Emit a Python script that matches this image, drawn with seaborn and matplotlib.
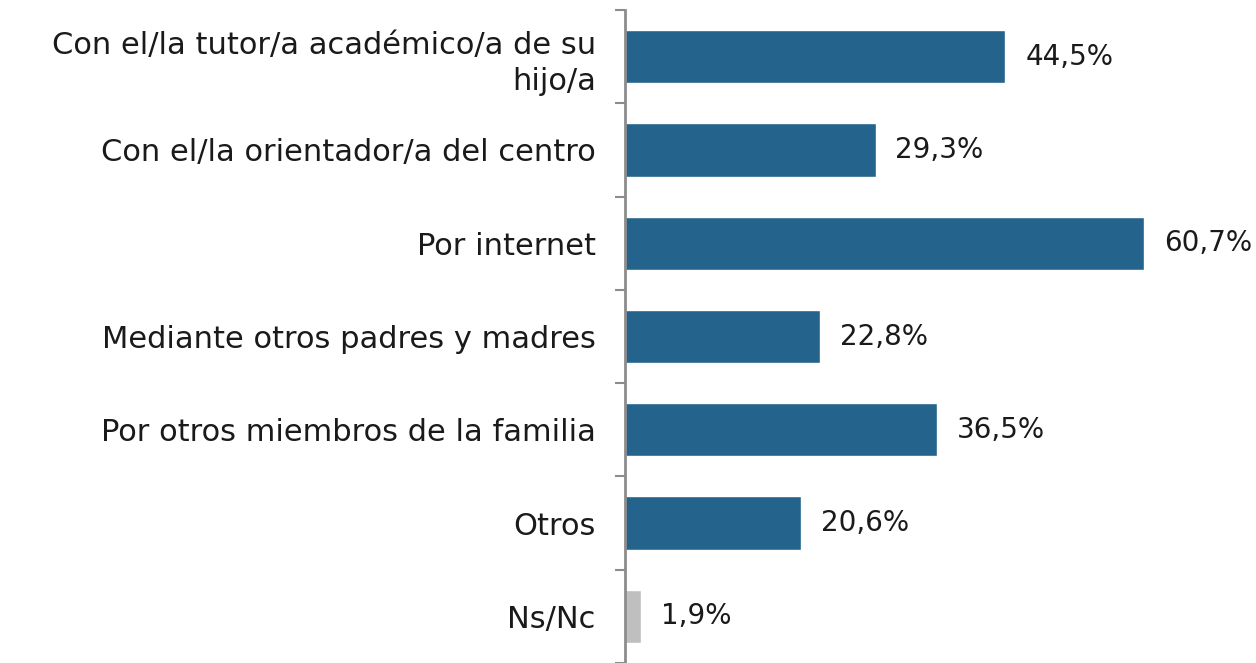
import matplotlib
matplotlib.use("Agg")
import matplotlib.pyplot as plt
import seaborn as sns
import pandas as pd
import numpy as np

categories = [
    "Con el/la tutor/a académico/a de su\nhijo/a",
    "Con el/la orientador/a del centro",
    "Por internet",
    "Mediante otros padres y madres",
    "Por otros miembros de la familia",
    "Otros",
    "Ns/Nc",
]
values = [44.5, 29.3, 60.7, 22.8, 36.5, 20.6, 1.9]
labels = ["44,5%", "29,3%", "60,7%", "22,8%", "36,5%", "20,6%", "1,9%"]
bar_colors = ["#23638C"] * 6 + ["#BFBFBF"]

sns.set_style("white")
plt.rcParams["font.family"] = ["DejaVu Sans"]

df = pd.DataFrame({"cat": categories, "val": values})

fig = plt.figure(figsize=(12.56, 6.63), dpi=100)
ax = fig.add_axes([625 / 1256, 0.0, 1 - 625 / 1256, 1 - 10 / 663])

sns.barplot(data=df, y="cat", x="val", hue="cat", palette=bar_colors,
            legend=False, ax=ax, width=0.57, saturation=1, orient="h")

ax.set_xlim(0, 73.8)
ax.set_ylim(6.5, -0.5)
ax.set_xlabel("")
ax.set_ylabel("")
ax.set_xticks([])

for sp in ["top", "right", "bottom"]:
    ax.spines[sp].set_visible(False)
ax.spines["left"].set_color("#8C8C8C")
ax.spines["left"].set_linewidth(2)

# category labels without ticks, tick marks on the band boundaries
ax.set_yticks(range(len(categories)))
ax.set_yticklabels(categories, fontsize=22, color="#1a1a1a", ha="right",
                   multialignment="right", linespacing=1.3)
ax.tick_params(axis="y", which="major", left=True, length=0, pad=21)
ax.set_yticks(np.arange(-0.5, len(categories), 1.0), minor=True)
ax.tick_params(axis="y", which="minor", left=True, length=7.5, width=1.5,
               color="#8C8C8C")

for i, (v, lab) in enumerate(zip(values, labels)):
    ax.text(v + 2.3, i, lab, va="center", ha="left", fontsize=20,
            color="#1a1a1a")

fig.savefig("out.png", dpi=100)
